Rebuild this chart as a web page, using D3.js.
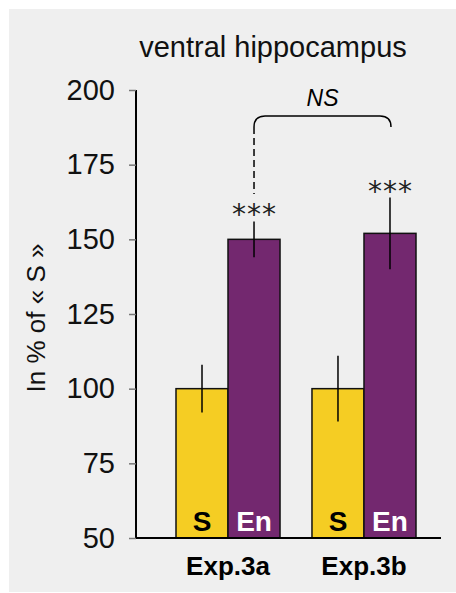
<!DOCTYPE html>
<html>
<head>
<meta charset="utf-8">
<script src="https://cdn.jsdelivr.net/npm/d3@7"></script>
<style>
  body { margin: 0; background: #fff; }
  svg { display: block; font-family: "Liberation Sans", Arial, sans-serif; }
</style>
</head>
<body>
<div id="chart"></div>
<script>
const experiments = ["Exp.3a", "Exp.3b"];
const groups = ["S", "En"];
const means = [[100, 150], [100, 152]];
const errors = [[8, 6], [11, 12]];
const stars = [[null, "***"], [null, "***"]];
const yTicks = [50, 75, 100, 125, 150, 175, 200];

const width = 456;
const height = 593;
const colors = { S: "#f5cd23", En: "#73286f" };

const svg = d3.select("#chart")
    .append("svg")
    .attr("width", width)
    .attr("height", height);

svg.append("rect")
    .attr("x", 9).attr("y", 9)
    .attr("width", width - 9).attr("height", height - 10)
    .attr("fill", "#efefef");

const y = d3.scaleLinear().domain([50, 200]).range([538, 90]);
const x0 = d3.scaleBand().domain(experiments).range([176, 416]).paddingInner(0.235).paddingOuter(0);
const x1 = d3.scaleBand().domain(groups).range([0, x0.bandwidth()]);

// y axis
const yAxis = svg.append("g")
    .attr("transform", "translate(136,0)")
    .call(d3.axisLeft(y).tickValues(yTicks).tickSize(7).tickPadding(14));
yAxis.select(".domain").attr("stroke", "#000").attr("stroke-width", 2).attr("d", `M0,${y(200)}V${y(50)}`);
yAxis.selectAll(".tick line").attr("stroke", "#777").attr("stroke-width", 1.5);
yAxis.selectAll(".tick text")
    .attr("font-size", 29)
    .attr("fill", "#111")
    .attr("font-family", "Liberation Sans, Arial, sans-serif");

// bars
const exp = svg.append("g").selectAll("g")
    .data(experiments)
    .enter()
    .append("g")
    .attr("transform", d => `translate(${x0(d)},0)`);

const cells = (d, i) => groups.map((g, j) => ({ g, v: means[i][j], e: errors[i][j], s: stars[i][j] }));

exp.selectAll("rect")
    .data(cells)
    .enter()
    .append("rect")
    .attr("x", d => x1(d.g))
    .attr("y", d => y(d.v))
    .attr("width", x1.bandwidth())
    .attr("height", d => y(50) - y(d.v))
    .attr("fill", d => colors[d.g])
    .attr("stroke", "#111")
    .attr("stroke-width", 1.5);

exp.selectAll("line.err")
    .data(cells)
    .enter()
    .append("line")
    .attr("class", "err")
    .attr("x1", d => x1(d.g) + x1.bandwidth() / 2)
    .attr("x2", d => x1(d.g) + x1.bandwidth() / 2)
    .attr("y1", d => y(d.v - d.e))
    .attr("y2", d => y(d.v + d.e))
    .attr("stroke", "#000")
    .attr("stroke-width", 1.5);

exp.selectAll("text.lab")
    .data(groups)
    .enter()
    .append("text")
    .attr("class", "lab")
    .attr("x", d => x1(d) + x1.bandwidth() / 2)
    .attr("y", 531)
    .attr("text-anchor", "middle")
    .attr("font-size", 28)
    .attr("font-weight", "bold")
    .attr("fill", d => d === "S" ? "#000" : "#fff")
    .text(d => d);

exp.selectAll("text.star")
    .data((d, i) => cells(d, i).filter(c => c.s))
    .enter()
    .append("text")
    .attr("class", "star")
    .attr("x", d => x1(d.g) + x1.bandwidth() / 2 + 0.5)
    .attr("y", d => y(d.v + d.e) + 3)
    .attr("text-anchor", "middle")
    .attr("font-size", 28)
    .attr("letter-spacing", 1)
    .attr("fill", "#222")
    .attr("font-family", "DejaVu Sans, sans-serif")
    .text(d => d.s);

// x axis line
svg.append("line")
    .attr("x1", 136).attr("x2", 441)
    .attr("y1", y(50)).attr("y2", y(50))
    .attr("stroke", "#000").attr("stroke-width", 2);

svg.selectAll("text.xlab")
    .data(experiments)
    .enter()
    .append("text")
    .attr("class", "xlab")
    .attr("x", d => x0(d) + x0.bandwidth() / 2)
    .attr("y", 575)
    .attr("text-anchor", "middle")
    .attr("font-size", 26)
    .attr("font-weight", "bold")
    .text(d => d);

// comparison bracket between the two En bars
const bx1 = x0("Exp.3a") + x1("En") + x1.bandwidth() / 2;
const bx2 = x0("Exp.3b") + x1("En") + x1.bandwidth() / 2 + 1;
const by = 116, r = 9;
svg.append("path")
    .attr("d", `M${bx1},${by + r + 2}Q${bx1},${by} ${bx1 + r + 2},${by}H${bx2 - r - 2}Q${bx2},${by} ${bx2},${by + r + 2}`)
    .attr("fill", "none").attr("stroke", "#000").attr("stroke-width", 1.5);
svg.append("line")
    .attr("x1", bx1).attr("x2", bx1)
    .attr("y1", by + r + 2).attr("y2", 194)
    .attr("stroke", "#000").attr("stroke-width", 1.5)
    .attr("stroke-dasharray", "7,4");
svg.append("text")
    .attr("x", (bx1 + bx2) / 2)
    .attr("y", 106)
    .attr("text-anchor", "middle")
    .attr("font-size", 23)
    .attr("font-style", "italic")
    .text("NS");

// title and y label
svg.append("text")
    .attr("x", 273).attr("y", 57)
    .attr("text-anchor", "middle")
    .attr("font-size", 29)
    .attr("fill", "#111")
    .text("ventral hippocampus");

svg.append("text")
    .attr("transform", "translate(45,318) rotate(-90)")
    .attr("text-anchor", "middle")
    .attr("font-size", 26)
    .attr("fill", "#111")
    .text("In % of « S »");
</script>
</body>
</html>
